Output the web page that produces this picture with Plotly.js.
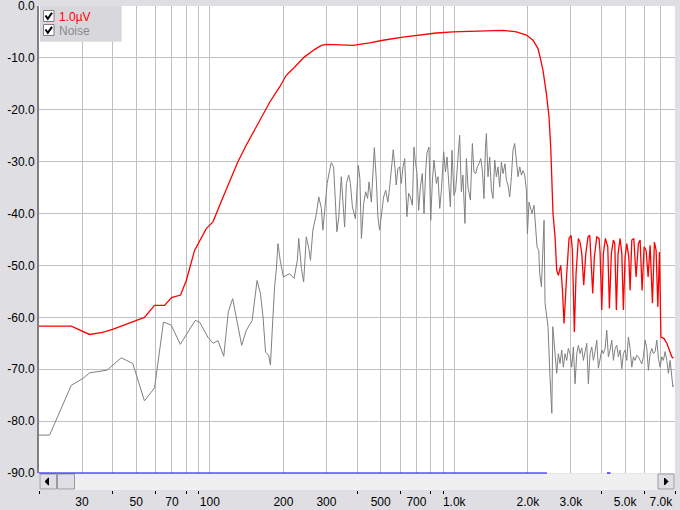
<!DOCTYPE html>
<html>
<head>
<meta charset="utf-8">
<script src="https://cdn.plot.ly/plotly-3.0.1.min.js"></script>
<style>
  html, body { margin: 0; padding: 0; background: #dfdfe3; }
  #chart { width: 680px; height: 510px; }
</style>
</head>
<body>
<div id="chart"></div>
<script>
// ---- data (frequency in Hz, level in dB) ----
const redName = "1.0\u00b5V";
const noiseName = "Noise";

const redFreq = [20, 27.1, 32.2, 36.4, 40.0, 46.9, 54.0, 59.4, 65.3, 69.7, 75.9, 80.1, 86.6, 96.7, 103, 111, 120, 130, 141, 157, 176, 193, 205, 222, 244, 268, 286, 300, 350, 385, 451, 511, 617, 722, 845, 988, 1156, 1353, 1582, 1796, 1973, 2099, 2201, 2251, 2307, 2382, 2442, 2481, 2512, 2535, 2584, 2625, 2666, 2727, 2768, 2813, 2885, 2948, 3004, 3042, 3100, 3150, 3219, 3271, 3324, 3386, 3452, 3527, 3584, 3628, 3686, 3742, 3828, 3912, 3949, 4013, 4075, 4152, 4247, 4312, 4393, 4477, 4536, 4605, 4680, 4769, 4846, 4920, 4999, 5080, 5177, 5241, 5325, 5426, 5545, 5667, 5759, 5868, 5980, 6094, 6210, 6328, 6468, 6590, 6696, 6805, 6911, 7006, 7221, 7407, 7641, 7764, 7885];
const redDb = [-61.7, -61.7, -63.3, -62.9, -62.3, -61.1, -60.0, -57.7, -57.7, -56.2, -55.7, -52.9, -47.1, -42.9, -41.6, -37.8, -33.9, -30.1, -26.8, -22.7, -18.5, -15.6, -13.4, -11.8, -9.8, -8.4, -7.6, -7.4, -7.5, -7.6, -7.1, -6.6, -6.0, -5.6, -5.2, -5.0, -4.9, -4.7, -4.7, -5.0, -5.6, -6.6, -8.2, -10.1, -12.4, -16.9, -21.4, -27.2, -33.6, -40.0, -44.5, -50.9, -51.9, -50.0, -54.4, -61.2, -51.6, -44.8, -44.2, -47.1, -62.8, -51.6, -44.8, -45.5, -47.7, -53.8, -47.7, -44.5, -44.2, -48.4, -55.4, -48.4, -44.5, -44.8, -47.4, -58.6, -47.7, -44.8, -46.4, -58.3, -47.7, -45.1, -45.8, -58.6, -47.7, -44.8, -47.7, -58.6, -48.4, -45.8, -48.4, -54.8, -45.1, -44.8, -52.2, -45.8, -45.1, -54.8, -46.4, -47.1, -52.2, -46.1, -57.3, -45.5, -47.1, -58.0, -47.4, -63.8, -64.1, -65.0, -67.0, -67.6, -67.9];

const noiseFreq = [20, 22.1, 27.1, 30.2, 32.2, 35.4, 37.9, 43.4, 48.4, 54.0, 59.4, 64.6, 69.5, 75.7, 87.1, 90.8, 98.1, 103, 108, 114, 119, 124, 135, 141, 149, 156, 161, 165, 169, 174, 177, 180, 184, 187, 190, 194, 200, 212, 221, 228, 231, 237, 242, 248, 254, 258, 264, 273, 279, 286, 290, 295, 302, 309, 314, 321, 327, 331, 337, 345, 350, 356, 362, 370, 376, 383, 394, 405, 411, 417, 426, 434, 442, 448, 458, 465, 471, 480, 487, 495, 503, 514, 524, 535, 544, 554, 563, 572, 579, 588,
  598, 607, 617, 627, 633, 640, 651, 661, 674, 684, 695, 704, 715, 727, 740, 752, 764, 773, 788, 801, 814, 826, 845, 858, 872, 886, 905, 920, 934, 949, 964, 979, 997, 1013, 1030, 1052, 1069, 1085, 1106, 1121, 1138, 1164, 1186, 1204, 1224, 1243, 1262, 1283, 1303, 1323, 1341, 1353, 1374, 1396, 1419, 1440, 1464, 1487, 1510, 1534, 1559, 1583, 1613, 1634, 1659, 1686, 1713, 1739, 1767, 1796, 1823, 1853, 1883, 1911, 1942, 1973, 1992, 2022, 2055, 2080, 2120, 2154, 2181, 2216, 2237, 2273, 2308, 2330, 2352, 2383, 2419, 2465, 2507, 2530, 2584, 2625, 2666, 2708, 2752, 2794, 2839, 2885, 2929, 2976, 3025, 3071, 3120, 3171, 3219, 3271, 3324, 3375, 3429, 3484, 3537, 3594, 3652, 3708, 3768, 3828, 3887, 3949, 4013, 4075, 4140, 4207, 4271, 4340, 4409, 4477, 4549, 4622, 4693, 4769, 4846, 4920, 4999, 5080, 5157, 5241, 5325, 5406, 5493, 5582, 5667, 5759, 5851, 5941, 6037, 6134, 6228, 6328, 6430, 6528, 6634, 6741, 6843, 6954, 7066, 7173, 7290, 7407, 7520, 7641, 7764, 7839, 7885];
const noiseDb = [-82.7, -82.7, -73.1, -71.8, -70.7, -70.4, -70.2, -67.8, -68.9, -76.1, -73.6, -60.9, -61.5, -65.2, -60.6, -60.9, -63.8, -65.0, -64.5, -67.5, -58.9, -56.4, -65.4, -62.5, -60.6, -52.9, -55.4, -59.9, -66.7, -67.3, -69.2, -62.5, -54.1, -50.9, -45.8, -49.0, -52.2, -51.6, -52.5, -49.0, -44.8, -50.6, -53.2, -44.5, -46.7, -49.0, -43.2, -40.0, -36.8, -39.0, -43.2, -39.4, -34.2, -31.7, -30.2, -31.0, -38.4, -43.5, -40.6, -32.9, -37.4, -42.6, -34.2, -32.6, -34.2, -38.7, -41.0, -30.7, -33.3, -44.8, -38.1, -35.8, -37.1, -33.9, -37.8, -30.4, -27.3, -33.6, -40.6, -43.2, -40.6, -36.8, -35.5, -37.8, -34.9, -30.1, -27.7, -31.3, -34.5, -31.3,
  -31.0, -34.2, -31.0, -29.4, -34.9, -40.6, -36.1, -36.8, -38.4, -27.2, -30.4, -32.3, -39.4, -34.9, -32.3, -40.0, -31.7, -28.4, -27.2, -41.3, -33.6, -29.7, -34.2, -32.9, -39.0, -35.5, -28.1, -32.0, -29.1, -34.9, -38.7, -27.8, -36.5, -35.5, -30.4, -24.9, -35.8, -32.6, -41.9, -29.4, -34.9, -37.4, -26.5, -32.0, -32.3, -31.0, -30.4, -29.4, -31.7, -37.1, -27.5, -24.6, -32.9, -29.1, -35.5, -37.1, -29.7, -32.9, -31.0, -34.9, -30.1, -32.3, -30.4, -33.6, -34.5, -36.8, -32.9, -27.8, -26.5, -30.4, -32.9, -31.0, -32.6, -31.7, -32.6, -35.5, -43.9, -37.8, -39.0, -40.0, -38.4, -43.9, -46.4, -47.1, -51.6, -54.1, -47.7, -41.3, -57.3, -59.3, -61.8, -71.6, -78.5, -61.8, -67.0, -70.8, -67.0, -68.9, -66.3, -69.6, -67.0, -68.3, -66.0, -67.0, -69.6, -65.7, -72.8, -67.0, -65.4, -67.0, -65.9, -68.3, -66.6, -65.0, -72.8, -67.0, -65.7, -68.3, -66.6, -64.4, -69.8, -68.3, -66.3, -67.0, -66.0, -62.5, -67.6, -66.3, -64.4, -68.3, -66.0, -65.4, -67.6, -66.3, -69.9, -67.0, -66.3, -68.3, -63.8, -66.0, -69.6, -67.6, -68.3, -67.3, -67.6, -68.3, -69.0, -67.6, -64.4, -66.0, -70.2, -67.0, -66.0, -67.0, -66.6, -64.4, -67.9, -69.6, -67.6, -68.3, -66.6, -68.3, -70.8, -68.3, -72.1, -73.4, -73.1];

// ---- axis ticks ----
const xTickVals = [30, 50, 70, 100, 200, 300, 500, 700, 1000, 2000, 3000, 5000, 7000];
const xTickText = ["30", "50", "70", "100", "200", "300", "500", "700", "1.0k", "2.0k", "3.0k", "5.0k", "7.0k"];
const xMinorVals = [20, 40, 60, 80, 90, 400, 600, 800, 900, 4000, 6000, 8000];
const yTickVals = [-90, -80, -70, -60, -50, -40, -30, -20, -10, 0];
const yTickText = ["-90.0", "-80.0", "-70.0", "-60.0", "-50.0", "-40.0", "-30.0", "-20.0", "-10.0", "0.0"];
const xTitle = "Frequency (Hz)";

// ---- geometry helpers for decorations ----
const W = 680, H = 510, ML = 39, MR = 5, MT = 6, MB = 20;
const px = X => (X - ML) / (W - ML - MR);
const py = Y => (H - MB - Y) / (H - MT - MB);

const FONT = "Liberation Sans, Arial, sans-serif";
const GRID = "#c0c0c0";

const traces = [
  { x: noiseFreq, y: noiseDb, name: noiseName, type: "scatter", mode: "lines",
    line: { color: "#808080", width: 1 } },
  { x: redFreq, y: redDb, name: redName, type: "scatter", mode: "lines",
    line: { color: "#ff0000", width: 1.3 } }
];

function rect(x0, x1, y0, y1, fill, lineColor, lw) {
  return { type: "rect", xref: "paper", yref: "paper", layer: "above",
    x0: px(x0), x1: px(x1), y0: py(y1), y1: py(y0),
    fillcolor: fill, line: { color: lineColor || fill, width: lw === undefined ? 0 : lw } };
}
function pathShape(pts, fill, lineColor, lw, close) {
  let d = pts.map((p, i) => (i ? "L" : "M") + px(p[0]).toFixed(5) + "," + py(p[1]).toFixed(5)).join(" ");
  if (close) d += " Z";
  return { type: "path", xref: "paper", yref: "paper", layer: "above", path: d,
    fillcolor: fill || "rgba(0,0,0,0)", line: { color: lineColor, width: lw } };
}

const shapes = [
  // scrollbar track
  rect(39, 675, 473.5, 490, "#f0f0f0"),
  // buttons
  rect(40, 56.5, 474, 489, "#e0dfe3", "#9a9a9a", 1),
  rect(57.5, 74.5, 474, 489, "#e0dfe3", "#9a9a9a", 1),
  rect(658, 674, 474, 489, "#e0dfe3", "#9a9a9a", 1),
  pathShape([[45, 481.5], [48.5, 478], [48.5, 485]], "#000", "#000", 1, true),
  pathShape([[668, 481.5], [664.5, 478], [664.5, 485]], "#000", "#000", 1, true),
  // blue baseline
  { type: "line", xref: "paper", yref: "paper", layer: "above", x0: 0, x1: px(547), y0: py(473), y1: py(473), line: { color: "#0000ff", width: 1.2 } },
  { type: "line", xref: "paper", yref: "paper", layer: "above", x0: px(607), x1: px(610.5), y0: py(473), y1: py(473), line: { color: "#0000ff", width: 1.2 } },
  // legend panel
  rect(40, 121.7, 6, 41.7, "#d8d8dc"),
  rect(43.5, 54, 10.5, 21.5, "#ffffff", "#808080", 1),
  rect(43.5, 54, 24.5, 35.5, "#ffffff", "#808080", 1),
  pathShape([[45.5, 15.5], [47.8, 18.8], [52, 12.8]], null, "#000", 2, false),
  pathShape([[45.5, 29.5], [47.8, 32.8], [52, 26.8]], null, "#000", 2, false)
];

const annotations = [
  { xref: "paper", yref: "paper", x: px(57), y: py(16.5), xanchor: "left", yanchor: "middle",
    text: redName, showarrow: false, font: { family: FONT, size: 12, color: "#ff0000" } },
  { xref: "paper", yref: "paper", x: px(57), y: py(30.5), xanchor: "left", yanchor: "middle",
    text: noiseName, showarrow: false, font: { family: FONT, size: 12, color: "#8a8a8a" } },
  { xref: "paper", yref: "paper", x: px(334), y: py(506), xanchor: "left", yanchor: "top",
    text: xTitle, showarrow: false, font: { family: FONT, size: 12, color: "#000" } }
];

const layout = {
  width: W, height: H,
  margin: { l: ML, r: MR, t: MT, b: MB, pad: 0 },
  paper_bgcolor: "#dfdfe3",
  plot_bgcolor: "#ffffff",
  showlegend: false,
  hovermode: false,
  font: { family: FONT, size: 12, color: "#000" },
  xaxis: {
    type: "log", range: [Math.log10(20), Math.log10(8000)],
    anchor: "free", position: 0,
    tickmode: "array", tickvals: xTickVals, ticktext: xTickText,
    ticks: "", showgrid: true, gridcolor: GRID, gridwidth: 1,
    showline: false, zeroline: false, ticklabelstandoff: 3,
    tickfont: { family: FONT, size: 12, color: "#000" },
    minor: { tickmode: "array", tickvals: xMinorVals, ticks: "outside", ticklen: 3,
      tickcolor: "#000", tickwidth: 1, showgrid: true, gridcolor: GRID, gridwidth: 1 },
    fixedrange: true
  },
  yaxis: {
    range: [-90, 0], domain: [py(473), 1],
    tickmode: "array", tickvals: yTickVals, ticktext: yTickText,
    ticks: "", showgrid: true, gridcolor: GRID, gridwidth: 1,
    showline: true, linecolor: "#808080", linewidth: 2, zeroline: false,
    ticklabeloverflow: "allow",
    tickfont: { family: FONT, size: 12, color: "#000" },
    fixedrange: true
  },
  shapes: shapes,
  annotations: annotations
};

Plotly.newPlot("chart", traces, layout, { displayModeBar: false, staticPlot: true });
</script>
</body>
</html>
